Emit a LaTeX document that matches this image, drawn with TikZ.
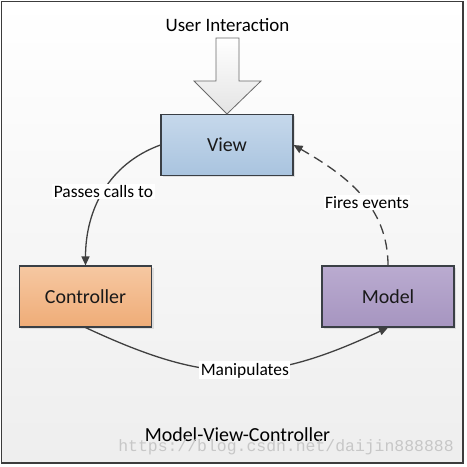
\documentclass[tikz,border=0pt]{standalone}
\usepackage{fontspec}
\setmainfont{Carlito}
\newfontfamily\markfont{Liberation Mono}
\usetikzlibrary{arrows.meta,shadows}
\definecolor{bgbottom}{HTML}{EEEEEE}
\definecolor{framecol}{HTML}{3C3C3C}
\definecolor{boxline}{HTML}{3A3F45}
\definecolor{linecol}{HTML}{404040}
\definecolor{arrowline}{HTML}{6A6A6A}
\definecolor{arrowbottom}{HTML}{E4E4E4}
\definecolor{viewtop}{HTML}{C6D8EB}
\definecolor{viewbottom}{HTML}{A9C4DF}
\definecolor{ctrltop}{HTML}{F6C8A2}
\definecolor{ctrlbottom}{HTML}{EFAC77}
\definecolor{modeltop}{HTML}{BAABD0}
\definecolor{modelbottom}{HTML}{A695C0}
\begin{document}
\begin{tikzpicture}[x=1bp,y=1bp,
    box/.style={draw=boxline,line width=1.1bp,minimum width=132bp,minimum height=61bp,
        font=\fontsize{20}{24}\selectfont,text=black!90,
        drop shadow={shadow xshift=2bp,shadow yshift=-2bp,opacity=0.2}},
    link/.style={linecol,line width=1.3bp,-{Triangle[length=9bp,width=8bp]}},
    tag/.style={fill=white,inner sep=1.5bp,text=black,font=\fontsize{17.5}{20}\selectfont}]
    % background and frame
    \useasboundingbox (0,0) rectangle (467,467);
    \shade[top color=white,bottom color=bgbottom] (1.5,4) rectangle (463,465.5);
    \draw[framecol,line width=1.6bp] (1.5,4) rectangle (463,465.5);
    % the three parts
    \node[box,top color=viewtop,bottom color=viewbottom] (view) at (227,322) {View};
    \node[box,top color=ctrltop,bottom color=ctrlbottom] (controller) at (85.5,170.5) {Controller};
    \node[box,top color=modeltop,bottom color=modelbottom] (model) at (388,170.5) {Model};
    % user input
    \node[font=\fontsize{19}{22}\selectfont] (user) at (227.5,442) {User Interaction};
    \draw[arrowline,line width=0.8bp,top color=white,bottom color=arrowbottom]
        (view.north) -- (194,386) -- (216,386) -- (216,429) -- (239,429) -- (239,386) -- (261,386) -- cycle;
    % connectors
    \draw[link] (view.west) to[out=200,in=90] node[tag,pos=0.5]{Passes calls to} (controller.north);
    \draw[link,dash pattern=on 10bp off 6bp] (model.north) to[out=90,in=-30] node[tag,pos=0.43]{Fires events} (view.east);
    \draw[link] (controller.south) to[out=-25,in=205,looseness=1.15] node[tag,pos=0.53]{Manipulates} (model.south);
    % caption
    \node[font=\fontsize{20}{24}\selectfont] (title) at (237.5,32) {Model-View-Controller};
    \node[text=black!22,font=\markfont\fontsize{16.5}{20}\selectfont] (mark) at (286,20) {https://blog.csdn.net/daijin888888};
\end{tikzpicture}
\end{document}
